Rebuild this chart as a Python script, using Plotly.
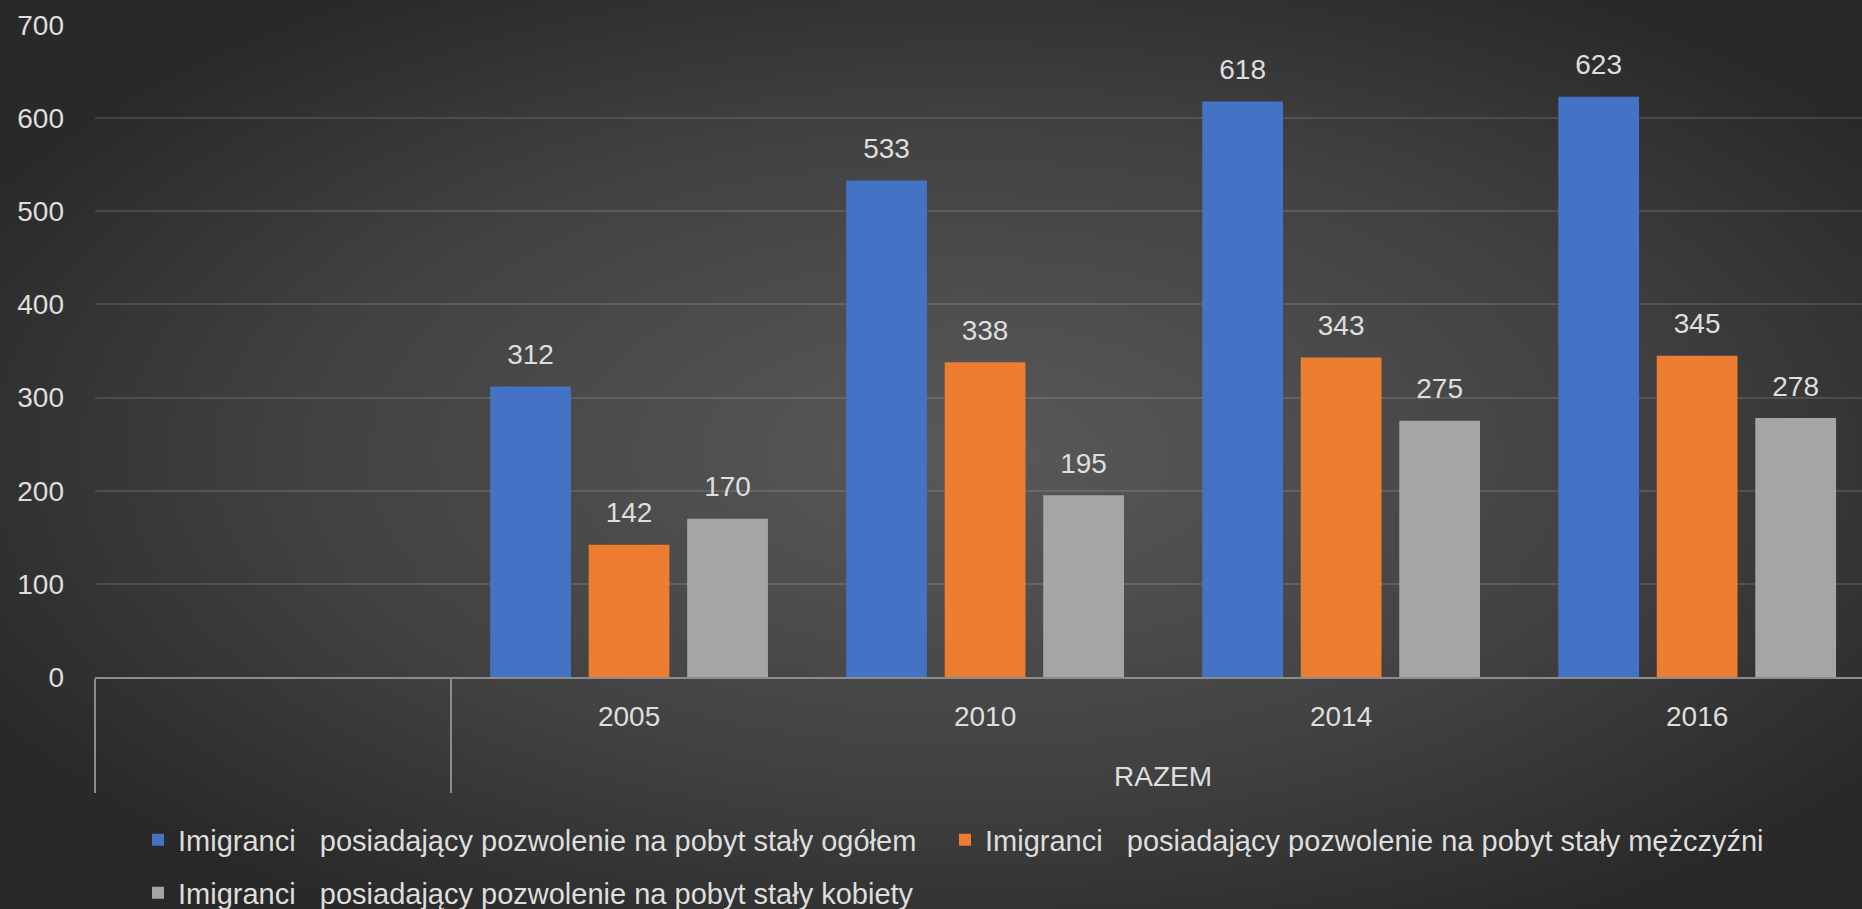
import base64
import plotly.graph_objects as go

# ---- data ----
outer_groups = [" ", "RAZEM", "RAZEM", "RAZEM", "RAZEM"]
years = [" ", "2005", "2010", "2014", "2016"]
series_names = [
    "Imigranci\u00a0\u00a0\u00a0posiadający pozwolenie na pobyt stały ogółem",
    "Imigranci\u00a0\u00a0\u00a0posiadający pozwolenie na pobyt stały mężczyźni",
    "Imigranci\u00a0\u00a0\u00a0posiadający pozwolenie na pobyt stały kobiety",
]
ogolem = [None, 312, 533, 618, 623]
mezczyzni = [None, 142, 338, 343, 345]
kobiety = [None, 170, 195, 275, 278]
y_ticks = [0, 100, 200, 300, 400, 500, 600, 700]

colors = ["#4472c4", "#ed7d31", "#a5a5a5"]
legends = ["legend", "legend2", "legend3"]
TXT = "#dedede"
FONT = "Liberation Sans"

W, H = 1862, 909
ML, MR, MT, MB = 95, 0, 25, 232
GAP = 0.17

# inner labels get an extra (tall) empty line to push the outer level lower
inner_labels = [y + "<br><span style='font-size:48px'>\u00a0</span>" for y in years]
xcats = [outer_groups, inner_labels]

fig = go.Figure()
for name, vals, col, lg in zip(series_names, [ogolem, mezczyzni, kobiety], colors, legends):
    fig.add_trace(go.Bar(
        x=xcats, y=vals, name=name,
        marker=dict(color=col, line=dict(width=0)),
        legend=lg, offsetgroup=name,
    ))
# value labels (grouped scatter text aligned with the bars)
for name, vals in zip(series_names, [ogolem, mezczyzni, kobiety]):
    fig.add_trace(go.Scatter(
        x=xcats, y=vals, mode="markers+text",
        text=[("" if v is None else str(v)) for v in vals],
        textposition="top center",
        textfont=dict(color=TXT, size=28, family=FONT),
        marker=dict(size=23, color="rgba(0,0,0,0)"),
        showlegend=False, hoverinfo="skip", cliponaxis=False,
        offsetgroup=name,
    ))

# background radial gradient
svg = (
    f'<svg xmlns="http://www.w3.org/2000/svg" width="{W}" height="{H}" '
    f'viewBox="0 0 {W} {H}" preserveAspectRatio="none">'
    '<defs><radialGradient id="g" cx="52%" cy="50%" r="60%">'
    '<stop offset="0" stop-color="#595959"/>'
    '<stop offset="0.6" stop-color="#414141"/>'
    '<stop offset="1" stop-color="#292929"/>'
    '</radialGradient></defs>'
    '<rect width="100%" height="100%" fill="url(#g)"/></svg>'
)
uri = "data:image/svg+xml;base64," + base64.b64encode(svg.encode()).decode()
pw = W - ML - MR
ph = H - MT - MB

legend_common = dict(
    orientation="h", xref="container", yref="container",
    xanchor="left", yanchor="middle",
    font=dict(size=29, color=TXT, family=FONT),
    bgcolor="rgba(0,0,0,0)",
)

fig.update_layout(
    width=W, height=H,
    margin=dict(l=ML, r=MR, t=MT, b=MB, pad=0),
    paper_bgcolor="#333333",
    plot_bgcolor="rgba(0,0,0,0)",
    barmode="group",
    bargap=GAP,
    bargroupgap=0.18,
    scattermode="group",
    scattergap=GAP,
    font=dict(family=FONT, color=TXT, size=28),
    images=[dict(
        source=uri, xref="paper", yref="paper",
        x=-ML / pw, y=1 + MT / ph, sizex=W / pw, sizey=H / ph,
        xanchor="left", yanchor="top", sizing="stretch", layer="below",
    )],
    legend=dict(x=138 / W, y=1 - 840 / H, **legend_common),
    legend2=dict(x=945 / W, y=1 - 840 / H, **legend_common),
    legend3=dict(x=138 / W, y=1 - 893 / H, **legend_common),
    showlegend=True,
    hovermode=False,
)
fig.update_xaxes(
    showline=True, linecolor="#8c8c8c", linewidth=2,
    showdividers=True, dividercolor="#8c8c8c", dividerwidth=2,
    tickfont=dict(size=28, color=TXT, family=FONT),
    showgrid=False, zeroline=False,
    range=[-0.5, 4.463],
    ticks="", ticklabelstandoff=13,
)
fig.update_yaxes(
    range=[0, 700], tickvals=y_ticks,
    showgrid=True, gridcolor="rgba(255,255,255,0.12)", gridwidth=2,
    zeroline=False, showline=False,
    tickfont=dict(size=28, color=TXT, family=FONT),
    ticklabelstandoff=30,
)

fig.write_html(
    "out.html",
    config={"displayModeBar": False},
    post_script="document.body.style.margin='0';document.body.style.overflow='hidden';",
)
